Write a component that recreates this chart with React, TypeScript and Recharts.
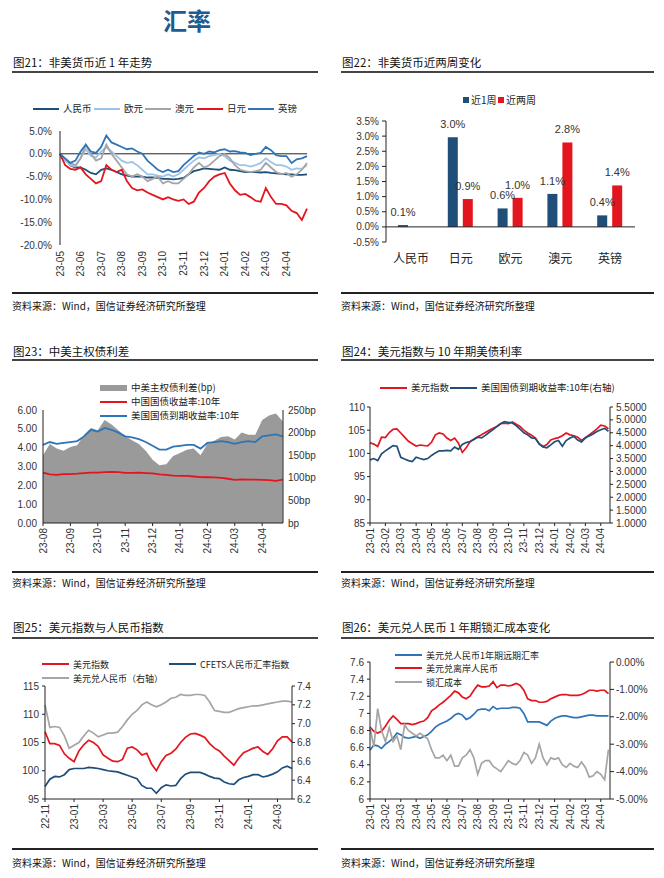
import React from 'react';
import { LineChart, Line, ComposedChart, Area, BarChart, Bar, XAxis, YAxis, ReferenceLine } from 'recharts';

const CJK = '"Noto Sans CJK SC", "Liberation Sans", sans-serif';
const NUM = '"Liberation Sans", "Noto Sans CJK SC", sans-serif';

const NAVY = '#1F4E79';
const BLUE = '#2E75B6';
const LIGHT_BLUE = '#9DC3E6';
const RED = '#E3151E';
const GRAY = '#A5A5A5';
const AXIS = '#222';
const TXT = '#333';

// 图21 非美货币近1年走势 (%), weekly points from 23-05
const fx21Ticks = ['23-05', '23-06', '23-07', '23-08', '23-09', '23-10', '23-11', '23-12', '24-01', '24-02', '24-03', '24-04'];
const cny21 = [0, -1.2, -2.5, -3, -3, -3.5, -4.2, -4.5, -3.5, -3.2, -3.5, -4, -4.5, -4.8, -5, -5, -5, -5.2, -5.2, -5.3, -5.5, -5.5, -5.6, -5.5, -5.3, -4.5, -3.8, -3.5, -3.2, -3.3, -3.4, -3.5, -3.0, -3.5, -3.6, -3.8, -4, -4, -4, -4.1, -4.0, -4.2, -4.3, -4.4, -4.5, -4.5, -4.6, -4.6, -4.5];
const eur21 = [0, -1.5, -2.5, -2.8, -1, 1, -0.5, -0.8, 0.5, 1.5, 0.5, -0.5, -1.5, -2, -1.8, -2.5, -3.5, -4.5, -4.5, -4.8, -5, -4.5, -5, -4.5, -3.5, -2.5, -1.5, -0.8, -1, -0.5, -0.3, 0, -0.5, -1.5, -2, -2.5, -2.5, -2.8, -2.5, -2, -1, -1.8, -2.5, -2.5, -2.8, -3.5, -3.2, -3.3, -2.5];
const aud21 = [0, -1.2, -2, -2.5, -1, 2, 0, -1.5, -1, 2, 0, -1.5, -3, -4.5, -5, -4.5, -5, -6, -5.5, -5, -6.5, -6, -6.5, -6.5, -5.5, -4.5, -3, -2, -3, -2.5, -1.5, -0.5, 0, -1, -2.5, -3.5, -3.8, -4, -3.8, -3.5, -2, -3, -4, -4.5, -4.2, -5, -4.5, -3.5, -2];
const jpy21 = [0, -2.5, -3.3, -3.5, -3, -4.5, -5.5, -6.5, -6, -2.5, -3.5, -4, -3.5, -6, -7.5, -8, -7.8, -8.5, -9, -9.5, -10, -9.5, -10, -10.3, -10, -11, -10.5, -8.5, -7.5, -6, -5, -4.5, -4.2, -6.5, -8, -9, -8.8, -9.5, -10.3, -10.5, -7.5, -9.5, -11, -11, -11.3, -12.5, -13, -14.5, -12];
const gbp21 = [0, -1, -2, -1.5, 0.5, 2, 0.5, 0.2, 1.5, 4, 2.5, 2, 1.5, 1, 1.2, 0.5, 0, -1.5, -2.5, -3.5, -4, -3.5, -4, -3.8, -2.5, -1.5, -0.5, 0.3, 0, 0.5, 0.3, 0.8, 1, 0.5, 0.6, 0.3, 0.2, -0.3, 0, 0.2, 1.5, 0.8, -0.3, -0.5, -0.5, -2, -1.2, -1, -0.5];

// 图22 非美货币近两周变化 (%)
const fx22Names = ['人民币', '日元', '欧元', '澳元', '英镑'];
const week1 = [0.06, 2.96, 0.61, 1.09, 0.38];
const week2 = [0.0, 0.92, 0.96, 2.79, 1.37];

// 图23 中美主权债利差, points every ~1/4 month from 23-08
const bond23Ticks = ['23-08', '23-09', '23-10', '23-11', '23-12', '24-01', '24-02', '24-03', '24-04'];
const spread23 = [150, 175, 165, 160, 168, 172, 195, 210, 205, 228, 218, 205, 192, 183, 175, 160, 140, 128, 130, 148, 155, 162, 165, 150, 175, 182, 190, 192, 185, 200, 195, 195, 228, 238, 242, 225];
const cn23 = [2.68, 2.58, 2.56, 2.6, 2.6, 2.62, 2.65, 2.67, 2.68, 2.7, 2.71, 2.7, 2.66, 2.66, 2.67, 2.65, 2.63, 2.58, 2.56, 2.52, 2.5, 2.5, 2.47, 2.44, 2.43, 2.42, 2.4, 2.35, 2.29, 2.32, 2.3, 2.3, 2.29, 2.28, 2.24, 2.3];
const us23 = [4.15, 4.3, 4.2, 4.25, 4.3, 4.35, 4.6, 4.95, 4.85, 5.05, 4.95, 4.8, 4.6, 4.55, 4.45, 4.3, 4.1, 3.9, 3.9, 4.05, 4.1, 4.15, 4.15, 3.95, 4.25, 4.3, 4.35, 4.3, 4.2, 4.3, 4.35, 4.3, 4.6, 4.65, 4.7, 4.6];

// 图24 美元指数与10年期美债利率, from 23-01
const m15Ticks = ['23-01', '23-02', '23-03', '23-04', '23-05', '23-06', '23-07', '23-08', '23-09', '23-10', '23-11', '23-12', '24-01', '24-02', '24-03', '24-04'];
const dxy24 = [102.3, 102.0, 101.5, 103.5, 103.4, 104.5, 105.2, 105.3, 104.4, 103.5, 102.6, 102.1, 101.6, 101.8, 101.7, 101.6, 102.4, 104.0, 104.4, 104.2, 103.3, 102.8, 103.3, 102.2, 100.2, 101.2, 102.5, 103.0, 103.6, 104.0, 104.5, 105.0, 105.4, 105.8, 106.4, 106.5, 106.4, 106.8, 106.3, 105.8, 105.0, 104.4, 103.9, 103.3, 102.1, 101.5, 101.9, 102.9, 103.2, 103.4, 103.8, 104.4, 104.0, 103.8, 103.5, 102.8, 103.4, 104.0, 104.6, 105.3, 106.1, 105.9, 105.3];
const us24 = [3.45, 3.5, 3.42, 3.68, 3.8, 3.9, 4.0, 3.98, 3.55, 3.48, 3.42, 3.38, 3.55, 3.5, 3.46, 3.5, 3.62, 3.72, 3.8, 3.8, 3.82, 3.8, 3.95, 3.86, 4.05, 4.12, 4.16, 4.25, 4.33, 4.3, 4.4, 4.52, 4.62, 4.75, 4.86, 4.93, 4.9, 4.88, 4.78, 4.64, 4.5, 4.42, 4.3, 4.28, 4.06, 3.95, 3.92, 4.03, 4.15, 4.2, 3.98, 4.2, 4.3, 4.36, 4.22, 4.14, 4.3, 4.38, 4.45, 4.55, 4.62, 4.67, 4.56];

// 图25 美元指数与人民币指数, points every 1/3 month from 22-11
const idx25Ticks = ['22-11', '23-01', '23-03', '23-05', '23-07', '23-09', '23-11', '24-01', '24-03'];
const dxy25 = [106.9, 104.8, 104.8, 104.5, 103.0, 102.2, 101.6, 103.5, 104.6, 105.4, 105.0, 104.3, 102.8, 102.2, 101.7, 101.6, 102.0, 104.0, 104.2, 103.7, 102.8, 103.1, 101.2, 100.0, 101.6, 102.7, 103.1, 103.8, 105.0, 105.9, 106.5, 106.6, 106.3, 105.9, 104.8, 104.0, 103.5, 102.6, 101.8, 101.0, 102.2, 103.2, 103.6, 104.0, 104.2, 103.4, 102.9, 103.9, 105.3, 106.0, 106.0, 105.1];
const cfets25 = [97.2, 98.5, 99.0, 98.9, 99.3, 100.2, 100.4, 100.4, 100.4, 100.6, 100.5, 100.4, 100.2, 100.0, 99.9, 99.8, 99.5, 99.2, 98.9, 98.6, 97.4, 96.9, 96.9, 96.0, 97.0, 97.5, 97.3, 97.4, 98.6, 99.4, 99.7, 99.7, 99.7, 99.4, 99.0, 98.7, 98.6, 98.0, 97.7, 97.6, 98.4, 98.8, 99.0, 99.3, 99.3, 98.9, 99.1, 99.4, 99.8, 100.5, 100.8, 100.4];
const usdcny25 = [7.2, 6.96, 6.97, 6.96, 6.87, 6.74, 6.77, 6.8, 6.87, 6.93, 6.9, 6.86, 6.88, 6.9, 6.9, 6.91, 6.97, 7.04, 7.1, 7.14, 7.2, 7.23, 7.2, 7.18, 7.2, 7.23, 7.27, 7.28, 7.31, 7.3, 7.3, 7.31, 7.31, 7.3, 7.23, 7.14, 7.13, 7.12, 7.12, 7.14, 7.16, 7.17, 7.18, 7.19, 7.19, 7.2, 7.21, 7.22, 7.23, 7.24, 7.24, 7.23];

// 图26 美元兑人民币1年期锁汇成本变化, from 23-01
const fwd26 = [6.57, 6.63, 6.62, 6.59, 6.64, 6.67, 6.71, 6.77, 6.75, 6.72, 6.71, 6.72, 6.73, 6.71, 6.73, 6.75, 6.79, 6.84, 6.87, 6.89, 6.91, 6.94, 6.98, 7.0, 6.98, 6.93, 6.95, 6.99, 7.04, 7.05, 7.05, 7.03, 7.08, 7.05, 7.06, 7.06, 7.06, 7.07, 7.07, 7.06, 7.0, 6.9, 6.9, 6.9, 6.9, 6.88, 6.86, 6.91, 6.94, 6.96, 6.97, 6.97, 6.96, 6.95, 6.95, 6.96, 6.97, 6.98, 6.98, 6.97, 6.97, 6.97, 6.97];
const cnh26 = [6.84, 6.79, 6.77, 6.79, 6.85, 6.92, 6.97, 6.93, 6.88, 6.88, 6.88, 6.87, 6.88, 6.9, 6.91, 6.95, 7.03, 7.06, 7.1, 7.13, 7.17, 7.21, 7.26, 7.24, 7.19, 7.17, 7.2, 7.27, 7.33, 7.31, 7.31, 7.32, 7.37, 7.3, 7.33, 7.33, 7.32, 7.33, 7.35, 7.33, 7.27, 7.17, 7.15, 7.15, 7.13, 7.13, 7.14, 7.17, 7.19, 7.21, 7.22, 7.22, 7.21, 7.21, 7.21, 7.22, 7.24, 7.27, 7.27, 7.26, 7.27, 7.27, 7.23];
const cost26 = [-2.4, -3.1, -1.7, -2.5, -2.9, -2.4, -2.9, -2.7, -3.2, -2.3, -2.5, -2.6, -2.7, -2.6, -2.7, -2.8, -3.2, -3.5, -3.5, -3.4, -3.6, -3.4, -3.8, -3.8, -3.5, -3.4, -3.2, -3.5, -4.1, -3.7, -3.6, -3.6, -3.8, -3.9, -4.0, -3.8, -3.6, -3.7, -3.75, -3.6, -3.3, -3.4, -3.7, -3.5, -3.0, -3.5, -3.75, -3.5, -3.55, -3.5, -3.75, -3.85, -3.7, -3.8, -3.85, -3.65, -3.85, -4.2, -4.15, -4.0, -4.1, -4.3, -3.2];

const rows21 = cny21.map((v, i) => ({ t: i / 4, cny: v, eur: eur21[i], aud: aud21[i], jpy: jpy21[i], gbp: gbp21[i] }));
const rows22 = fx22Names.map((name, i) => ({ name, w1: week1[i], w2: week2[i] }));
const rows23 = spread23.map((v, i) => ({ t: i / 4, spread: v, cn: cn23[i], us: us23[i] }));
const rows24 = dxy24.map((v, i) => ({ t: i / 4, dxy: v, us: us24[i] }));
const rows25 = dxy25.map((v, i) => ({ t: i / 3, dxy: v, cfets: cfets25[i], cny: usdcny25[i] }));
const rows26 = fwd26.map((v, i) => ({ t: i / 4, fwd: v, cnh: cnh26[i], cost: cost26[i] }));

const range = (n: number, step = 1) => Array.from({ length: n }, (_, i) => i * step);

const tickStyle = { fill: TXT, fontSize: 10, fontFamily: NUM };

function RotTick(props: any) {
  const { x, y, label } = props;
  return (
    <text x={x} y={y} dy={3.5} textAnchor="end" transform={`rotate(-90 ${x} ${y})`} fontSize={10} fill={TXT} fontFamily={NUM}>
      {label}
    </text>
  );
}
const rot = (labels: string[], step = 1) => (p: any) => (
  <RotTick x={p.x} y={p.y} label={labels[Math.round(p.payload.value / step)]} />
);

function CatTick(p: any) {
  return (
    <text x={p.x} y={p.y} dy={13} textAnchor="middle" fontSize={12} fill="#222" fontFamily={CJK}>
      {p.payload.value}
    </text>
  );
}

function barLabel(p: any) {
  const { x, y, width, value } = p;
  const ty = Math.abs(value) < 0.01 ? y + 18 : y - 9;
  return (
    <text x={x + width / 2} y={ty} textAnchor="middle" fontSize={11} fill={TXT} fontFamily={NUM}>
      {Number(value).toFixed(1) + '%'}
    </text>
  );
}

function Txt({ x, y, size = 12, color = '#111', weight = 400, font = CJK, children }: any) {
  return (
    <div style={{ position: 'absolute', left: x, top: y - size / 2, fontSize: size, lineHeight: `${size}px`, color, fontWeight: weight, fontFamily: font, whiteSpace: 'nowrap' }}>
      {children}
    </div>
  );
}

function Rule({ x, y, w, h = 1, color = '#333' }: any) {
  return <div style={{ position: 'absolute', left: x, top: y - h / 2, width: w, height: h, background: color }} />;
}

function LegLine({ x, y, color, label, w = 27, h = 2, size = 9.5 }: any) {
  return (
    <>
      <Rule x={x} y={y} w={w} h={h} color={color} />
      <Txt x={x + w + 4} y={y} size={size} color="#222">{label}</Txt>
    </>
  );
}

function Box({ x, y, children }: any) {
  return <div style={{ position: 'absolute', left: x, top: y }}>{children}</div>;
}

function Frame({ x, w, titleY, lineY, footY, footTextY, title }: any) {
  return (
    <>
      <Txt x={x + 1} y={titleY} size={11.5} color="#111">{title}</Txt>
      <Rule x={x} y={lineY} w={w} h={1.6} color="#444" />
      <Rule x={x} y={footY} w={w} h={1.2} color="#222" />
      <Txt x={x} y={footTextY} size={10} color="#111">资料来源：Wind，国信证券经济研究所整理</Txt>
    </>
  );
}

function Chart21() {
  return (
    <LineChart width={330} height={200} data={rows21} margin={{ top: 31, right: 23, bottom: 15, left: 0 }}>
      <XAxis type="number" dataKey="t" domain={[0, 12]} ticks={range(12)} interval={0} axisLine={false} tickLine={false} tickSize={4} tickMargin={2} height={40} tick={rot(fx21Ticks)} />
      <YAxis domain={[-20, 5]} ticks={[-20, -15, -10, -5, 0, 5]} interval={0} width={60} axisLine={{ stroke: AXIS }} tickLine={false} tick={tickStyle} tickFormatter={(v: number) => v.toFixed(1) + '%'} />
      <ReferenceLine y={0} stroke={AXIS} />
      <Line dataKey="cny" stroke={NAVY} strokeWidth={1.8} dot={false} isAnimationActive={false} />
      <Line dataKey="eur" stroke={LIGHT_BLUE} strokeWidth={1.8} dot={false} isAnimationActive={false} />
      <Line dataKey="aud" stroke={GRAY} strokeWidth={1.8} dot={false} isAnimationActive={false} />
      <Line dataKey="jpy" stroke={RED} strokeWidth={1.8} dot={false} isAnimationActive={false} />
      <Line dataKey="gbp" stroke={BLUE} strokeWidth={1.8} dot={false} isAnimationActive={false} />
    </LineChart>
  );
}

function Chart22() {
  return (
    <BarChart width={334} height={190} data={rows22} margin={{ top: 31, right: 29, bottom: 8, left: 0 }} barSize={10} barGap={5}>
      <XAxis dataKey="name" axisLine={false} tickLine={false} height={30} tick={CatTick} interval={0} />
      <YAxis domain={[-0.5, 3.5]} ticks={[-0.5, 0, 0.5, 1, 1.5, 2, 2.5, 3, 3.5]} interval={0} width={56} axisLine={{ stroke: AXIS }} tickLine={{ stroke: AXIS }} tickSize={4} tickMargin={3} tick={tickStyle} tickFormatter={(v: number) => v.toFixed(1) + '%'} />
      <ReferenceLine y={0} stroke={AXIS} />
      <Bar dataKey="w1" fill={NAVY} isAnimationActive={false} label={barLabel} />
      <Bar dataKey="w2" fill={RED} isAnimationActive={false} label={barLabel} />
    </BarChart>
  );
}

function Chart23() {
  return (
    <ComposedChart width={330} height={170} data={rows23} margin={{ top: 15, right: 0, bottom: 8, left: 0 }}>
      <XAxis type="number" dataKey="t" domain={[0, 8.76]} ticks={range(9)} interval={0} height={34} axisLine={{ stroke: AXIS }} tickLine={{ stroke: AXIS }} tickSize={3} tickMargin={2} tick={rot(bond23Ticks)} />
      <YAxis yAxisId="l" domain={[0, 6]} ticks={range(7)} interval={0} width={43} axisLine={{ stroke: AXIS }} tickLine={false} tickSize={4} tickMargin={2} tick={tickStyle} tickFormatter={(v: number) => v.toFixed(2)} />
      <YAxis yAxisId="r" orientation="right" domain={[0, 250]} ticks={range(6, 50)} interval={0} width={47} axisLine={{ stroke: AXIS }} tickLine={false} tickSize={3} tickMargin={2} tick={tickStyle} tickFormatter={(v: number) => (v === 0 ? 'bp' : v + 'bp')} />
      <Area yAxisId="r" dataKey="spread" fill="#9A9A9A" fillOpacity={1} stroke="none" isAnimationActive={false} />
      <Line yAxisId="l" dataKey="cn" stroke={RED} strokeWidth={1.8} dot={false} isAnimationActive={false} />
      <Line yAxisId="l" dataKey="us" stroke={BLUE} strokeWidth={1.8} dot={false} isAnimationActive={false} />
    </ComposedChart>
  );
}

function Chart24() {
  return (
    <LineChart width={334} height={170} data={rows24} margin={{ top: 12, right: 0, bottom: 8, left: 0 }}>
      <XAxis type="number" dataKey="t" domain={[0, 15.6]} ticks={range(16)} interval={0} height={34} axisLine={{ stroke: AXIS }} tickLine={{ stroke: AXIS }} tickSize={3} tickMargin={2} tick={rot(m15Ticks)} />
      <YAxis yAxisId="l" domain={[85, 110]} ticks={[85, 90, 95, 100, 105, 110]} interval={0} width={40} axisLine={{ stroke: AXIS }} tickLine={{ stroke: AXIS }} tickSize={3} tickMargin={2} tick={tickStyle} />
      <YAxis yAxisId="r" orientation="right" domain={[1, 5.5]} ticks={[1, 1.5, 2, 2.5, 3, 3.5, 4, 4.5, 5, 5.5]} interval={0} width={54} axisLine={{ stroke: AXIS }} tickLine={{ stroke: AXIS }} tickSize={3} tickMargin={3} tick={tickStyle} tickFormatter={(v: number) => v.toFixed(4)} />
      <Line yAxisId="l" dataKey="dxy" stroke={RED} strokeWidth={1.7} dot={false} isAnimationActive={false} />
      <Line yAxisId="r" dataKey="us" stroke={NAVY} strokeWidth={1.7} dot={false} isAnimationActive={false} />
    </LineChart>
  );
}

function Chart25() {
  return (
    <LineChart width={330} height={170} data={rows25} margin={{ top: 14, right: 0, bottom: 8, left: 0 }}>
      <XAxis type="number" dataKey="t" domain={[0, 17]} ticks={range(9, 2)} interval={0} height={35} axisLine={{ stroke: AXIS }} tickLine={{ stroke: AXIS }} tickSize={3} tickMargin={2} tick={rot(idx25Ticks, 2)} />
      <YAxis yAxisId="l" domain={[95, 115]} ticks={[95, 100, 105, 110, 115]} interval={0} width={45} axisLine={{ stroke: AXIS }} tickLine={{ stroke: AXIS }} tickSize={3} tickMargin={3} tick={tickStyle} />
      <YAxis yAxisId="r" orientation="right" domain={[6.2, 7.4]} ticks={[6.2, 6.4, 6.6, 6.8, 7.0, 7.2, 7.4]} interval={0} width={38} axisLine={{ stroke: AXIS }} tickLine={{ stroke: AXIS }} tickSize={3} tickMargin={2} tick={tickStyle} tickFormatter={(v: number) => v.toFixed(1)} />
      <Line yAxisId="l" dataKey="dxy" stroke={RED} strokeWidth={1.7} dot={false} isAnimationActive={false} />
      <Line yAxisId="l" dataKey="cfets" stroke={NAVY} strokeWidth={1.7} dot={false} isAnimationActive={false} />
      <Line yAxisId="r" dataKey="cny" stroke={GRAY} strokeWidth={1.7} dot={false} isAnimationActive={false} />
    </LineChart>
  );
}

function Chart26() {
  return (
    <LineChart width={334} height={190} data={rows26} margin={{ top: 12, right: 0, bottom: 8, left: 0 }}>
      <XAxis type="number" dataKey="t" domain={[0, 15.6]} ticks={range(16)} interval={0} height={33} axisLine={{ stroke: AXIS }} tickLine={{ stroke: AXIS }} tickSize={3} tickMargin={2} tick={rot(m15Ticks)} />
      <YAxis yAxisId="l" domain={[6, 7.6]} ticks={[6, 6.2, 6.4, 6.6, 6.8, 7, 7.2, 7.4, 7.6]} interval={0} width={40} axisLine={{ stroke: AXIS }} tickLine={{ stroke: AXIS }} tickSize={3} tickMargin={3} tick={tickStyle} tickFormatter={(v: number) => String(Math.round(v * 10) / 10)} />
      <YAxis yAxisId="r" orientation="right" domain={[-5, 0]} ticks={[-5, -4, -3, -2, -1, 0]} interval={0} width={54} axisLine={{ stroke: AXIS }} tickLine={{ stroke: AXIS }} tickSize={4} tickMargin={2} tick={tickStyle} tickFormatter={(v: number) => v.toFixed(2) + '%'} />
      <Line yAxisId="l" dataKey="fwd" stroke={BLUE} strokeWidth={1.7} dot={false} isAnimationActive={false} />
      <Line yAxisId="l" dataKey="cnh" stroke={RED} strokeWidth={1.7} dot={false} isAnimationActive={false} />
      <Line yAxisId="r" dataKey="cost" stroke={GRAY} strokeWidth={1.7} dot={false} isAnimationActive={false} />
    </LineChart>
  );
}

export default function App() {
  return (
    <div style={{ position: 'absolute', left: 0, top: 0, width: 664, height: 878, background: '#fff', overflow: 'hidden', fontFamily: CJK }}>
      <Txt x={163} y={20} size={24} weight={700} color="#1E5B8E">汇率</Txt>

      <Frame x={12} w={306} titleY={63} lineY={72} footY={293} footTextY={306} title="图21：非美货币近 1 年走势" />
      <Frame x={341} w={313} titleY={63} lineY={72} footY={293} footTextY={306} title="图22：非美货币近两周变化" />
      <Frame x={12} w={306} titleY={352} lineY={360} footY={572} footTextY={583} title="图23：中美主权债利差" />
      <Frame x={341} w={313} titleY={352} lineY={360} footY={572} footTextY={583} title="图24：美元指数与 10 年期美债利率" />
      <Frame x={12} w={306} titleY={628} lineY={638} footY={849} footTextY={863} title="图25：美元指数与人民币指数" />
      <Frame x={341} w={313} titleY={628} lineY={638} footY={849} footTextY={863} title="图26：美元兑人民币 1 年期锁汇成本变化" />

      <Box x={0} y={100}><Chart21 /></Box>
      <Box x={330} y={90}><Chart22 /></Box>
      <Box x={0} y={395}><Chart23 /></Box>
      <Box x={330} y={395}><Chart24 /></Box>
      <Box x={0} y={672}><Chart25 /></Box>
      <Box x={330} y={650}><Chart26 /></Box>

      {/* legend 21 */}
      <LegLine x={33} y={109} w={26} color={NAVY} label="人民币" />
      <LegLine x={94} y={109} w={26} color={LIGHT_BLUE} label="欧元" />
      <LegLine x={145} y={109} w={26} color={GRAY} label="澳元" />
      <LegLine x={197} y={109} w={26} color={RED} label="日元" />
      <LegLine x={248} y={109} w={26} color={BLUE} label="英镑" />

      {/* legend 22 */}
      <div style={{ position: 'absolute', left: 463, top: 97, width: 6, height: 6, background: NAVY }} />
      <Txt x={471} y={100} size={10} color="#222">近1周</Txt>
      <div style={{ position: 'absolute', left: 498, top: 97, width: 6, height: 6, background: RED }} />
      <Txt x={506} y={100} size={10} color="#222">近两周</Txt>

      {/* legend 23 */}
      <div style={{ position: 'absolute', left: 100, top: 385, width: 27, height: 6, background: '#9A9A9A' }} />
      <Txt x={131} y={388} size={9.5} color="#222">中美主权债利差(bp)</Txt>
      <LegLine x={100} y={402} color={RED} label="中国国债收益率:10年" />
      <LegLine x={100} y={416} color={BLUE} label="美国国债到期收益率:10年" />

      {/* legend 24 */}
      <LegLine x={380} y={388} color={RED} label="美元指数" />
      <LegLine x={450} y={388} color={NAVY} label="美国国债到期收益率:10年(右轴)" />

      {/* legend 25 */}
      <LegLine x={42} y={664} color={RED} label="美元指数" size={9} />
      <LegLine x={169} y={664} color={NAVY} label="CFETS人民币汇率指数" size={9} />
      <LegLine x={42} y={678} color={GRAY} label="美元兑人民币（右轴）" size={9} />

      {/* legend 26 */}
      <LegLine x={395} y={655} color={BLUE} label="美元兑人民币1年期远期汇率" size={9} />
      <LegLine x={395} y={668} color={RED} label="美元兑离岸人民币" size={9} />
      <LegLine x={395} y={682} color={GRAY} label="锁汇成本" size={9} />
    </div>
  );
}
